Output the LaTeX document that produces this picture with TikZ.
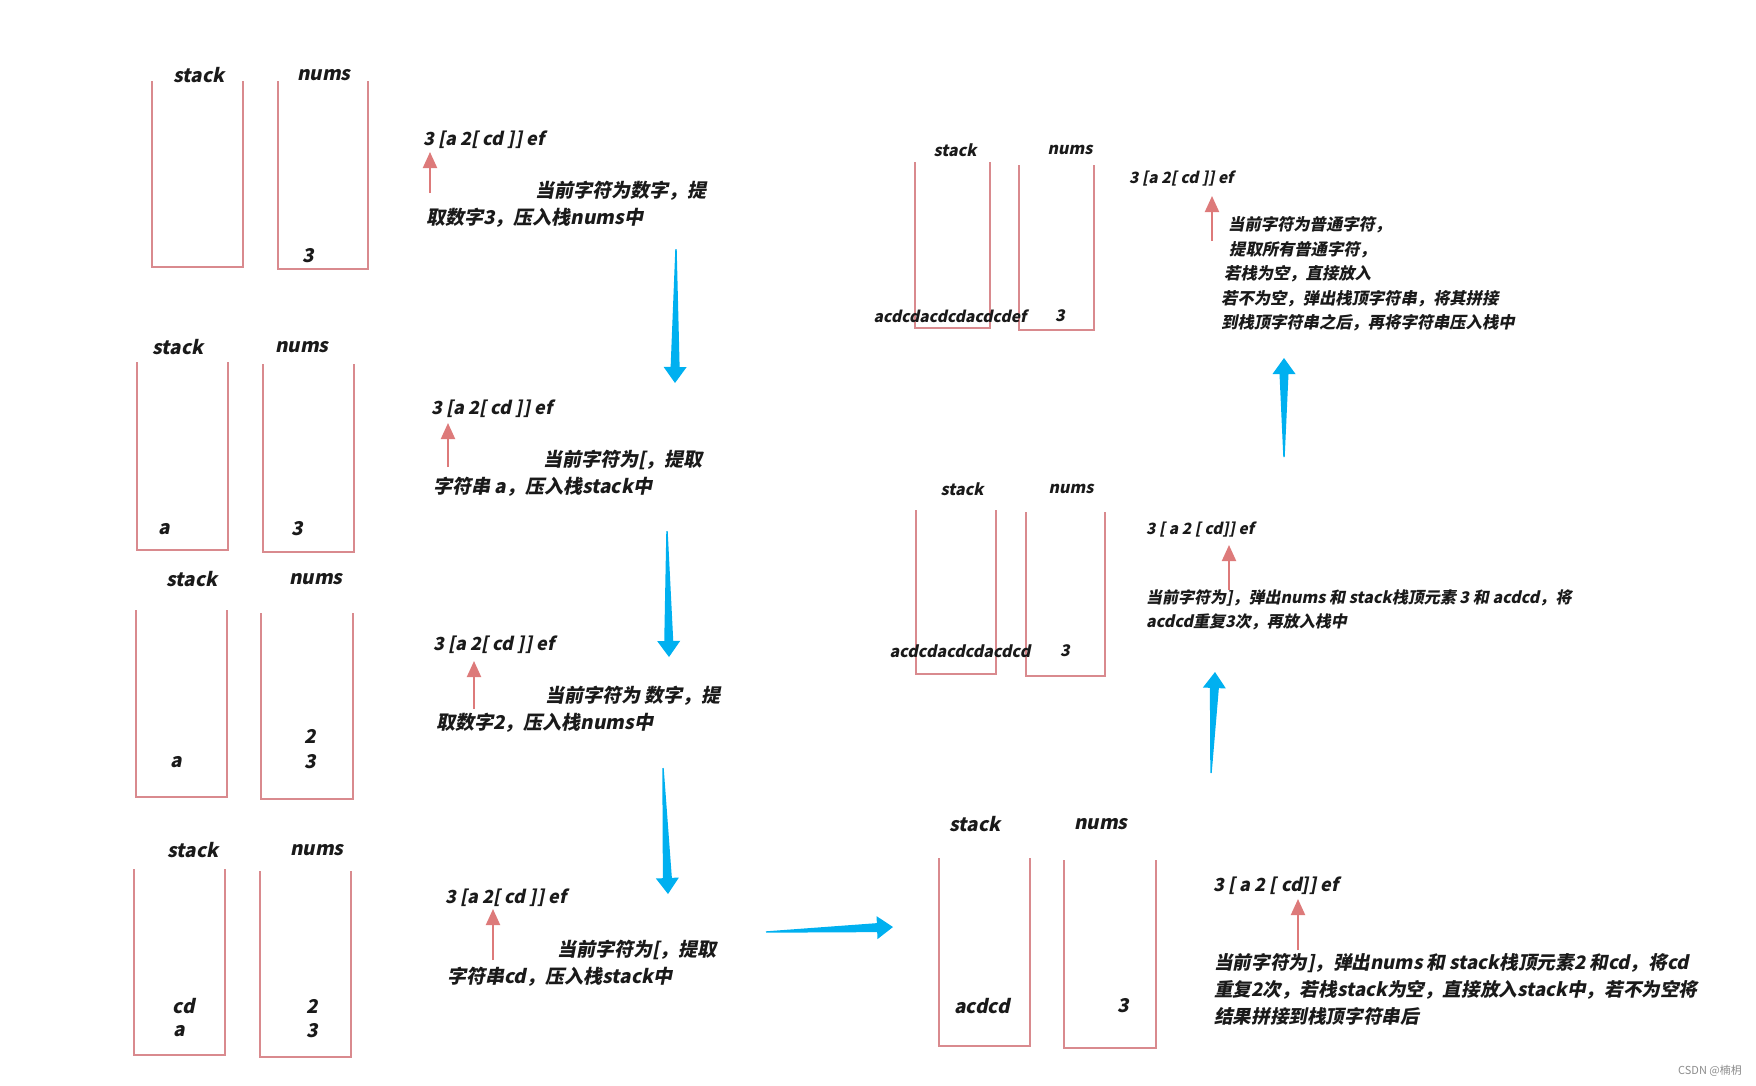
\documentclass[tikz,border=0pt]{standalone}
\usepackage{fontspec}
\setmainfont{Noto Sans CJK SC}[FakeSlant=0.2]
\newfontfamily\plainfont{Noto Sans CJK SC}
\usepackage{tikz}
\usetikzlibrary{arrows.meta,calc}
\definecolor{ink}{HTML}{1A1A1A}
\definecolor{boxrose}{HTML}{D98A8E}
\definecolor{ptrrose}{HTML}{DD7A7A}
\definecolor{flowblue}{HTML}{00B0F0}

\tikzset{
  wall/.style={draw=boxrose,line width=1.5pt},
  vessel/.style={inner sep=0pt,outer sep=0pt},
  hdr/.style={font=\fontsize{19}{19}\selectfont\bfseries,text=ink,inner sep=0pt},
  hdrs/.style={font=\fontsize{16}{16}\selectfont\bfseries,text=ink,inner sep=0pt},
  expr/.style={font=\fontsize{18}{18}\selectfont\bfseries,text=ink,inner sep=0pt,anchor=west},
  exprs/.style={font=\fontsize{15.5}{15.5}\selectfont\bfseries,text=ink,inner sep=0pt,anchor=west},
  note/.style={font=\fontsize{19}{27}\selectfont\bfseries,text=ink,inner sep=0pt,anchor=west,align=left},
  ptr/.style={ptrrose,line width=2pt,-{Triangle[width=14pt,length=16pt]}},
}
% open-top stack drawn from the corners of its node
\newcommand{\vessel}[1]{\draw[wall] (#1.north west) -- (#1.south west) -- (#1.south east) -- (#1.north east);}
% tapered blue step arrow: tail, tip
\newcommand{\flowarrow}[2]{%
  \coordinate (hb) at ($(#2)!16pt!(#1)$);
  \fill[flowblue] ($(#1)!0.7pt!90:(#2)$) -- ($(hb)!4.5pt!90:(#2)$) -- ($(hb)!11.5pt!90:(#2)$)
    -- (#2) -- ($(hb)!11.5pt!-90:(#2)$) -- ($(hb)!4.5pt!-90:(#2)$) -- ($(#1)!0.7pt!-90:(#2)$) -- cycle;}

\begin{document}
\begin{tikzpicture}[x=1pt,y=-1pt]
  \useasboundingbox (0,0) rectangle (1756,1085);

  % step 1
  \node[hdr] (h1s) at (199,75) {stack};
  \node[hdr] (h1n) at (324,75) {nums};
  \node[vessel,minimum width=91,minimum height=186] (s1) at (197.5,174) {};
  \node[vessel,minimum width=90,minimum height=188] (n1) at (323,175) {};
  \vessel{s1} \vessel{n1}
  \node[hdr] (n1a) at (308,256) {3};
  \node[expr] (e1) at (423,140) {3 [a 2[ cd ]] ef};
  \coordinate (p1) at (430,152); \coordinate (q1) at (430,193);
  \draw[ptr] (q1) -- (p1);
  \node[note] (t1) at (426,204.75) {\hspace*{109pt}当前字符为数字，提\\取数字3，压入栈nums中};

  % step 2
  \node[hdr] (h2s) at (178,347) {stack};
  \node[hdr] (h2n) at (302,347) {nums};
  \node[vessel,minimum width=91,minimum height=188] (s2) at (182.5,456) {};
  \node[vessel,minimum width=91,minimum height=188] (n2) at (308.5,458) {};
  \vessel{s2} \vessel{n2}
  \node[hdr] (s2a) at (164,529) {a};
  \node[hdr] (n2a) at (297,529) {3};
  \node[expr] (e2) at (431,409) {3 [a 2[ cd ]] ef};
  \coordinate (p2) at (448,423); \coordinate (q2) at (448,467);
  \draw[ptr] (q2) -- (p2);
  \node[note] (t2) at (433,473) {\hspace*{110pt}当前字符为[，提取\\字符串 a，压入栈stack中};

  % step 3
  \node[hdr] (h3s) at (192,579) {stack};
  \node[hdr] (h3n) at (316,579) {nums};
  \node[vessel,minimum width=91,minimum height=187] (s3) at (181.5,703.5) {};
  \node[vessel,minimum width=92,minimum height=186] (n3) at (307,706) {};
  \vessel{s3} \vessel{n3}
  \node[hdr] (s3a) at (176,762) {a};
  \node[hdr] (n3b) at (310,736) {2};
  \node[hdr] (n3a) at (310,762) {3};
  \node[expr] (e3) at (433,645) {3 [a 2[ cd ]] ef};
  \coordinate (p3) at (474,661); \coordinate (q3) at (474,709);
  \draw[ptr] (q3) -- (p3);
  \node[note] (t3) at (436,709) {\hspace*{109pt}当前字符为 数字，提\\取数字2，压入栈nums中};

  % step 4
  \node[hdr] (h4s) at (193,850) {stack};
  \node[hdr] (h4n) at (317,850) {nums};
  \node[vessel,minimum width=91,minimum height=186] (s4) at (179.5,962) {};
  \node[vessel,minimum width=91,minimum height=186] (n4) at (305.5,964) {};
  \vessel{s4} \vessel{n4}
  \node[hdr] (s4b) at (184,1006) {cd};
  \node[hdr] (s4a) at (179,1031) {a};
  \node[hdr] (n4b) at (312,1006) {2};
  \node[hdr] (n4a) at (312,1031) {3};
  \node[expr] (e4) at (445,898) {3 [a 2[ cd ]] ef};
  \coordinate (p4) at (493,909); \coordinate (q4) at (493,960);
  \draw[ptr] (q4) -- (p4);
  \node[note] (t4) at (447,963.5) {\hspace*{110pt}当前字符为[，提取\\字符串cd，压入栈stack中};

  % step 5
  \node[hdr] (h5s) at (975,824) {stack};
  \node[hdr] (h5n) at (1101,824) {nums};
  \node[vessel,minimum width=91,minimum height=188] (s5) at (984.5,952) {};
  \node[vessel,minimum width=92,minimum height=188] (n5) at (1110,954) {};
  \vessel{s5} \vessel{n5}
  \node[hdr] (s5a) at (982,1006) {acdcd};
  \node[hdr] (n5a) at (1123,1006) {3};
  \node[expr] (e5) at (1213,886) {3 [ a 2 [ cd]] ef};
  \coordinate (p5) at (1298,899); \coordinate (q5) at (1298,950);
  \draw[ptr] (q5) -- (p5);
  \node[note,font=\fontsize{18.6}{27}\selectfont\bfseries] (t5) at (1214,989)
    {当前字符为]，弹出nums 和 stack栈顶元素2 和cd，将cd\\重复2次，若栈stack为空，直接放入stack中，若不为空将\\结果拼接到栈顶字符串后};

  % step 6
  \node[hdrs] (h6s) at (962,489) {stack};
  \node[hdrs] (h6n) at (1071,489) {nums};
  \node[vessel,minimum width=80,minimum height=164] (s6) at (956,592) {};
  \node[vessel,minimum width=79,minimum height=164] (n6) at (1065.5,594) {};
  \vessel{s6} \vessel{n6}
  \node[hdrs] (s6a) at (960,651) {acdcdacdcdacdcd};
  \node[hdrs] (n6a) at (1065,651) {3};
  \node[exprs] (e6) at (1146,530) {3 [ a 2 [ cd]] ef};
  \coordinate (p6) at (1229,545); \coordinate (q6) at (1229,590);
  \draw[ptr] (q6) -- (p6);
  \node[note,font=\fontsize{16}{24}\selectfont\bfseries] (t6) at (1146,610)
    {当前字符为]，弹出nums 和 stack栈顶元素 3 和 acdcd，将\\acdcd重复3次，再放入栈中};

  % step 7
  \node[hdrs] (h7s) at (955,150) {stack};
  \node[hdrs] (h7n) at (1070,150) {nums};
  \node[vessel,minimum width=75,minimum height=166] (s7) at (952.5,245) {};
  \node[vessel,minimum width=75,minimum height=165] (n7) at (1056.5,247.5) {};
  \vessel{s7} \vessel{n7}
  \node[hdrs,font=\fontsize{15.6}{15.6}\selectfont\bfseries] (s7a) at (950,316) {acdcdacdcdacdcdef};
  \node[hdrs] (n7a) at (1060,316) {3};
  \node[exprs] (e7) at (1129,179) {3 [a 2[ cd ]] ef};
  \coordinate (p7) at (1212,196); \coordinate (q7) at (1212,241);
  \draw[ptr] (q7) -- (p7);
  \node[note,font=\fontsize{16.3}{24.5}\selectfont\bfseries] (t7) at (1221,274)
    {\hspace*{7pt}当前字符为普通字符，\\\hspace*{8pt}提取所有普通字符，\\\hspace*{3pt}若栈为空，直接放入\\若不为空，弹出栈顶字符串，将其拼接\\到栈顶字符串之后，再将字符串压入栈中};

  % blue flow between steps
  \coordinate (b1t) at (676,249); \coordinate (b1h) at (675,383);
  \coordinate (b2t) at (667,531); \coordinate (b2h) at (669,657);
  \coordinate (b3t) at (663,768); \coordinate (b3h) at (668,894);
  \coordinate (b4t) at (766,932); \coordinate (b4h) at (893,927);
  \coordinate (b5t) at (1211,773); \coordinate (b5h) at (1215,672);
  \coordinate (b6t) at (1284,457); \coordinate (b6h) at (1284,358);
  \flowarrow{b1t}{b1h}
  \flowarrow{b2t}{b2h}
  \flowarrow{b3t}{b3h}
  \flowarrow{b4t}{b4h}
  \flowarrow{b5t}{b5h}
  \flowarrow{b6t}{b6h}

  \node[font=\plainfont\fontsize{11}{11}\selectfont,text=black!45,anchor=east,inner sep=0pt] (wm) at (1742,1071) {CSDN @楠枂};
\end{tikzpicture}
\end{document}
